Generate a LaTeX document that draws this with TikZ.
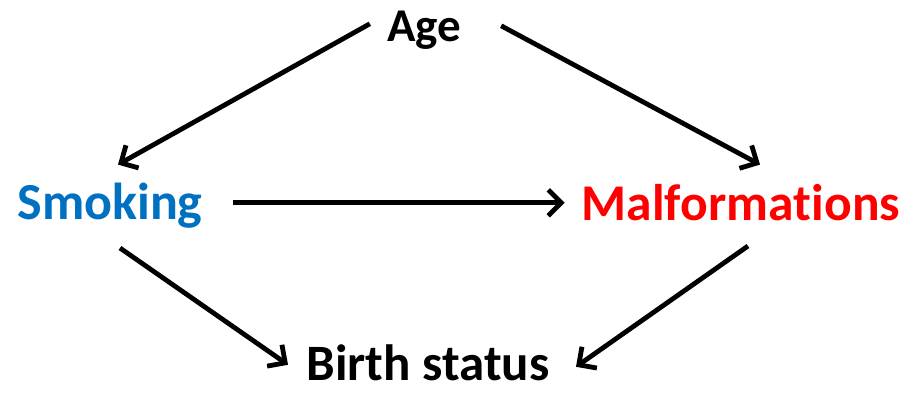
\documentclass[tikz,border=0pt]{standalone}
\usepackage{fontspec}
\setmainfont{Carlito}[Ligatures=NoCommon]
\usetikzlibrary{arrows.meta}
\definecolor{smokeblue}{RGB}{0,112,192}
\definecolor{malfred}{RGB}{255,0,0}
\begin{document}
\begin{tikzpicture}[x=1pt,y=1pt,
  lbl/.style={font=\bfseries\fontsize{#1}{#1}\selectfont, inner sep=0pt, text height=34pt, text depth=0pt, anchor=south},
  arr/.style={line width=4.8pt, -{Straight Barb[length=13pt,width=26pt]}}]
\useasboundingbox[fill=white] (0,0) rectangle (909,392);
\node[lbl=47] (age) at (424,350) {Age};
\node[lbl=52, text=smokeblue] (smoking) at (110,172) {Smoking};
\node[lbl=51.5, text=malfred] (malf) at (741,171) {Malforma\kern0pt tions};
\node[lbl=51] (birth) at (428,11) {Birth status};
\draw[arr] ([shift={(-17,1)}]age.west) -- ([shift={(8,21)}]smoking.north);
\draw[arr] ([shift={(40,-1)}]age.east) -- ([shift={(19,22)}]malf.north);
\draw[arr] ([shift={(30,0)}]smoking.east) -- ([shift={(-17,1)}]malf.west);
\draw[arr] ([shift={(10,-28)}]smoking.south) -- ([shift={(-140,-1)}]birth.center);
\draw[arr] ([shift={(7,-25)}]malf.south) -- ([shift={(148,-3)}]birth.center);
\end{tikzpicture}
\end{document}
